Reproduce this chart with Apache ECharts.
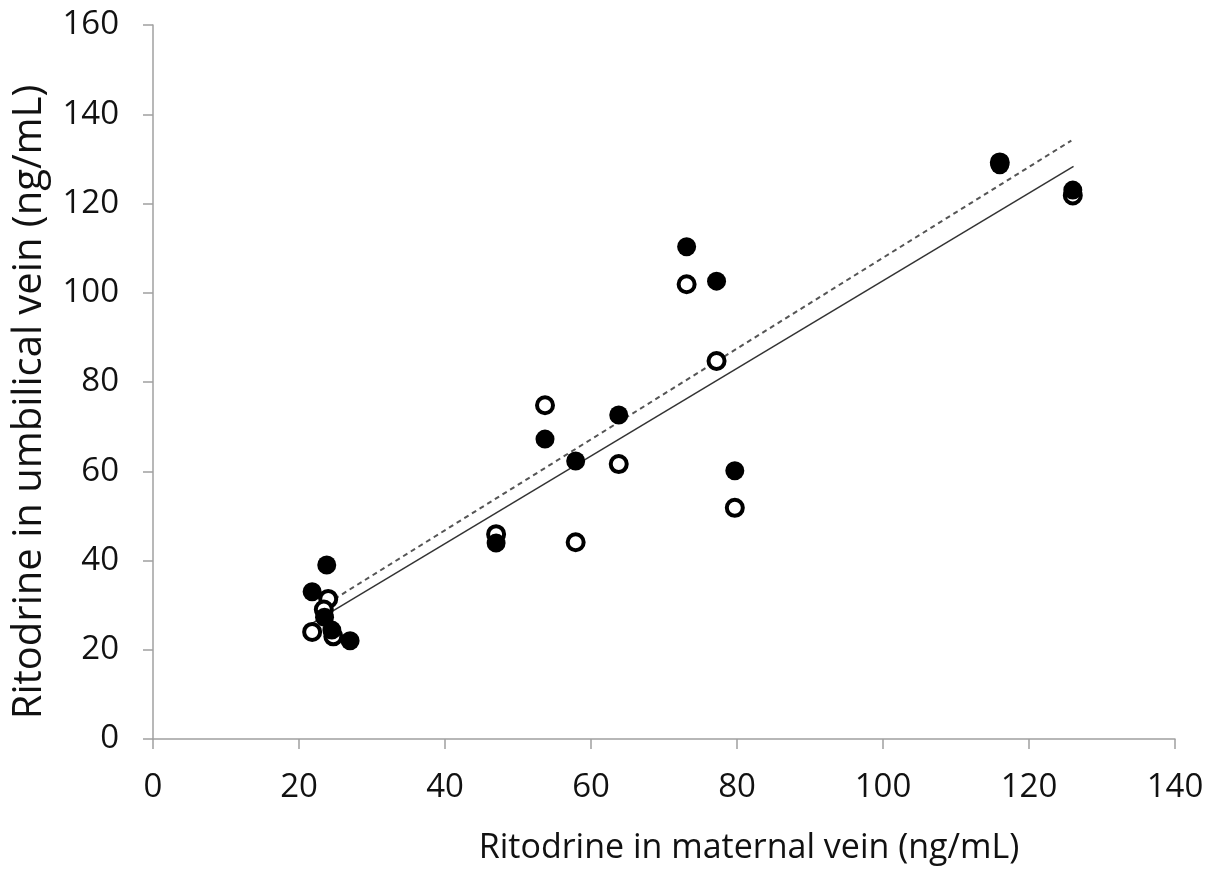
<!DOCTYPE html>
<html>
<head>
<meta charset="utf-8">
<script src="https://cdn.jsdelivr.net/npm/echarts@6/dist/echarts.min.js"></script>
<style>
html,body{margin:0;padding:0;background:#fff;}
#chart{width:1216px;height:884px;}
</style>
</head>
<body>
<div id="chart"></div>
<script>
// Ritodrine concentrations (ng/mL)
const maternalFilled = [116.0, 126.0, 73.1, 77.2, 79.7, 53.7, 63.8, 57.9, 47.0, 21.8, 23.8, 23.5, 24.5, 27.0];
const umbilicalFilled = [128.7, 123.0, 110.3, 102.6, 60.1, 67.2, 72.6, 62.3, 43.9, 33.0, 39.0, 27.3, 24.4, 22.0];
const maternalOpen = [116.0, 126.0, 73.1, 77.2, 79.7, 53.7, 63.8, 57.9, 47.0, 21.8, 24.0, 23.4, 24.7];
const umbilicalOpen = [129.2, 121.8, 101.9, 84.7, 51.8, 74.8, 61.6, 44.1, 45.9, 24.0, 31.4, 29.0, 23.0];
// regression lines (endpoints)
const solidLineX = [21.8, 126.1];
const solidLineY = [25.9, 128.3];
const dashedLineX = [23.8, 125.8];
const dashedLineY = [30.3, 134.1];
const xTicks = {min: 0, max: 140, interval: 20};
const yTicks = {min: 0, max: 160, interval: 20};

const zip = (a, b) => a.map((v, i) => [v, b[i]]);
const axisColor = '#a0a0a0';
const font = '"Open Sans", "Liberation Sans", sans-serif';

const chart = echarts.init(document.getElementById('chart'));
chart.setOption({
  animation: false,
  backgroundColor: '#ffffff',
  grid: {left: 153, right: 41, top: 25, bottom: 145},
  xAxis: {
    type: 'value', min: xTicks.min, max: xTicks.max, interval: xTicks.interval,
    name: 'Ritodrine in maternal vein (ng/mL)',
    nameLocation: 'middle', nameGap: 92,
    nameTextStyle: {fontFamily: font, fontSize: 34, color: '#111', padding: [0, 0, 0, 170]},
    axisLine: {lineStyle: {color: axisColor, width: 1.5}},
    axisTick: {length: 10, lineStyle: {color: axisColor, width: 1.5}},
    axisLabel: {fontFamily: font, fontSize: 33, color: '#111', margin: 32},
    splitLine: {show: false}
  },
  yAxis: {
    type: 'value', min: yTicks.min, max: yTicks.max, interval: yTicks.interval,
    name: 'Ritodrine in umbilical vein (ng/mL)',
    nameLocation: 'middle', nameGap: 103,
    nameTextStyle: {fontFamily: font, fontSize: 40, color: '#111', padding: [0, 40, 0, 0]},
    axisLine: {show: true, lineStyle: {color: axisColor, width: 1.5}},
    axisTick: {show: true, length: 10, lineStyle: {color: axisColor, width: 1.5}},
    axisLabel: {fontFamily: font, fontSize: 33, color: '#111', margin: 34},
    splitLine: {show: false}
  },
  series: [
    {
      type: 'line', data: zip(solidLineX, solidLineY), symbol: 'none',
      lineStyle: {color: '#333', width: 1.5}, z: 1
    },
    {
      type: 'line', data: zip(dashedLineX, dashedLineY), symbol: 'none',
      lineStyle: {color: '#555', width: 2, type: [5, 4]}, z: 1
    },
    {
      type: 'scatter', data: zip(maternalOpen, umbilicalOpen), symbol: 'circle', symbolSize: 16,
      itemStyle: {color: '#ffffff', borderColor: '#000', borderWidth: 4, opacity: 1}, z: 2
    },
    {
      type: 'scatter', data: zip(maternalFilled, umbilicalFilled), symbol: 'circle', symbolSize: 19,
      itemStyle: {color: '#000', opacity: 1}, z: 3
    }
  ]
});
</script>
</body>
</html>
